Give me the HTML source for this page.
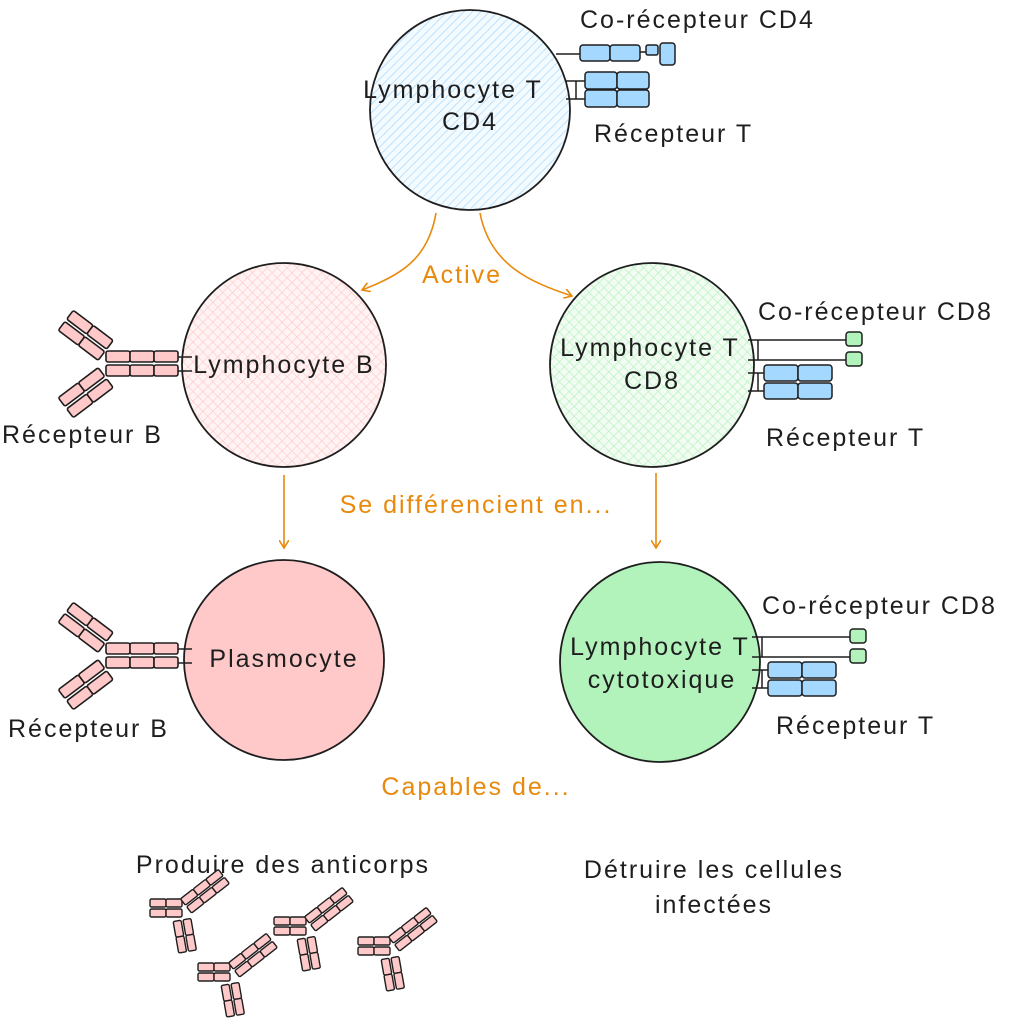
<!DOCTYPE html>
<html><head><meta charset="utf-8"><style>
html,body{margin:0;padding:0;background:#fff;}
svg{display:block;}
text{font-family:"Liberation Sans","DejaVu Sans",sans-serif;fill:#1e1e1e;font-size:25px;letter-spacing:2px;}
.o{fill:#e8890c;}
</style></head><body>
<svg width="1018" height="1024" viewBox="0 0 1018 1024" xmlns="http://www.w3.org/2000/svg">
<defs>
<pattern id="hb" width="6" height="6" patternUnits="userSpaceOnUse" patternTransform="rotate(45)">
<rect width="6" height="6" fill="#f4fbff"/><line x1="0" y1="0" x2="0" y2="6" stroke="#a5d8ff" stroke-width="1.4"/></pattern>
<pattern id="hp" width="7" height="7" patternUnits="userSpaceOnUse" patternTransform="rotate(45)">
<rect width="7" height="7" fill="#fff3f3"/><line x1="0" y1="0" x2="0" y2="7" stroke="#ffc9c9" stroke-width="1.3"/><line x1="0" y1="0" x2="7" y2="0" stroke="#ffc9c9" stroke-width="1.3"/></pattern>
<pattern id="hg" width="7" height="7" patternUnits="userSpaceOnUse" patternTransform="rotate(45)">
<rect width="7" height="7" fill="#f2fcf3"/><line x1="0" y1="0" x2="0" y2="7" stroke="#b2f2bb" stroke-width="1.3"/><line x1="0" y1="0" x2="7" y2="0" stroke="#b2f2bb" stroke-width="1.3"/></pattern>
<marker id="ar" markerWidth="10" markerHeight="10" refX="8" refY="5" orient="auto" markerUnits="userSpaceOnUse">
<path d="M0,0 L8,5 L0,10" fill="none" stroke="#e8890c" stroke-width="1.6"/></marker>
<g id="ab" stroke="#1e1e1e" stroke-width="1.6" fill="#ffc9c9">
<rect x="0" y="-13" width="24" height="11" rx="2"/><rect x="24" y="-13" width="24" height="11" rx="2"/><rect x="48" y="-13" width="24" height="11" rx="2"/>
<rect x="0" y="1" width="24" height="11" rx="2"/><rect x="24" y="1" width="24" height="11" rx="2"/><rect x="48" y="1" width="24" height="11" rx="2"/>
<g transform="translate(0,-14) rotate(37)"><rect x="-50" y="-12" width="25" height="11" rx="2"/><rect x="-25" y="-12" width="25" height="11" rx="2"/><rect x="-50" y="2" width="25" height="11" rx="2"/><rect x="-25" y="2" width="25" height="11" rx="2"/></g>
<g transform="translate(0,14) rotate(-37)"><rect x="-50" y="-13" width="25" height="11" rx="2"/><rect x="-25" y="-13" width="25" height="11" rx="2"/><rect x="-50" y="1" width="25" height="11" rx="2"/><rect x="-25" y="1" width="25" height="11" rx="2"/></g>
</g>
<g id="fab" stroke="#1e1e1e" stroke-width="1.4" fill="#ffc9c9">
<rect x="-32" y="-9" width="16" height="8" rx="1.5"/><rect x="-16" y="-9" width="16" height="8" rx="1.5"/>
<rect x="-32" y="1" width="16" height="8" rx="1.5"/><rect x="-16" y="1" width="16" height="8" rx="1.5"/>
<g transform="translate(4,-2) rotate(-38)"><rect x="0" y="-9" width="16" height="8" rx="1.5"/><rect x="16" y="-9" width="16" height="8" rx="1.5"/><rect x="32" y="-9" width="16" height="8" rx="1.5"/>
<rect x="0" y="1" width="16" height="8" rx="1.5"/><rect x="16" y="1" width="16" height="8" rx="1.5"/><rect x="32" y="1" width="16" height="8" rx="1.5"/></g>
<g transform="translate(0,12) rotate(80)"><rect x="0" y="-9" width="16" height="8" rx="1.5"/><rect x="16" y="-9" width="16" height="8" rx="1.5"/>
<rect x="0" y="1" width="16" height="8" rx="1.5"/><rect x="16" y="1" width="16" height="8" rx="1.5"/></g>
</g>
<g id="cd8" stroke="#1e1e1e" stroke-width="1.5">
<line x1="0" y1="0" x2="98" y2="0"/><line x1="0" y1="20" x2="98" y2="20"/><line x1="10" y1="0" x2="10" y2="20"/>
<rect x="98" y="-8" width="16" height="14" rx="3" fill="#b2f2bb"/><rect x="98" y="12" width="16" height="14" rx="3" fill="#b2f2bb"/>
<line x1="0" y1="33" x2="16" y2="33"/><line x1="0" y1="51" x2="16" y2="51"/><line x1="10" y1="33" x2="10" y2="51"/>
<g fill="#a5d8ff"><rect x="16" y="25" width="34" height="16" rx="3"/><rect x="50" y="25" width="34" height="16" rx="3"/><rect x="16" y="43" width="34" height="16" rx="3"/><rect x="50" y="43" width="34" height="16" rx="3"/></g>
</g>
</defs>

<circle cx="470" cy="110" r="100" fill="url(#hb)" stroke="#1e1e1e" stroke-width="1.8"/>
<text x="453" y="98" text-anchor="middle">Lymphocyte T</text>
<text x="470" y="130" text-anchor="middle">CD4</text>
<g stroke="#1e1e1e" stroke-width="1.5">
<line x1="556" y1="54" x2="580" y2="54"/>
<g fill="#a5d8ff"><rect x="580" y="45" width="30" height="16" rx="3"/><rect x="610" y="45" width="30" height="16" rx="3"/><rect x="646" y="45" width="12" height="10" rx="2"/><rect x="660" y="43" width="15" height="22" rx="3"/></g>
<line x1="640" y1="52" x2="646" y2="52"/>
<line x1="566" y1="81" x2="585" y2="81"/><line x1="566" y1="99" x2="585" y2="99"/><line x1="576" y1="81" x2="576" y2="99"/>
<g fill="#a5d8ff"><rect x="585" y="72" width="32" height="17" rx="3"/><rect x="617" y="72" width="32" height="17" rx="3"/><rect x="585" y="90" width="32" height="17" rx="3"/><rect x="617" y="90" width="32" height="17" rx="3"/></g>
</g>
<text x="580" y="28">Co-récepteur CD4</text>
<text x="594" y="142">Récepteur T</text>

<path d="M436,213 C428,260 400,275 362,290" fill="none" stroke="#e8890c" stroke-width="1.6" marker-end="url(#ar)"/>
<path d="M480,213 C490,265 530,282 572,296" fill="none" stroke="#e8890c" stroke-width="1.6" marker-end="url(#ar)"/>
<text x="462" y="283" text-anchor="middle" class="o">Active</text>

<circle cx="284" cy="365" r="102" fill="url(#hp)" stroke="#1e1e1e" stroke-width="1.8"/>
<text x="284" y="373" text-anchor="middle">Lymphocyte B</text>
<g stroke="#1e1e1e" stroke-width="1.5"><line x1="178" y1="357" x2="192" y2="357"/><line x1="178" y1="371" x2="192" y2="371"/></g>
<use href="#ab" x="106" y="364"/>
<text x="2" y="443">Récepteur B</text>

<circle cx="652" cy="365" r="102" fill="url(#hg)" stroke="#1e1e1e" stroke-width="1.8"/>
<text x="650" y="356" text-anchor="middle">Lymphocyte T</text>
<text x="652" y="389" text-anchor="middle">CD8</text>
<use href="#cd8" x="748" y="340"/>
<text x="758" y="320">Co-récepteur CD8</text>
<text x="766" y="446">Récepteur T</text>

<line x1="284" y1="475" x2="284" y2="548" stroke="#e8890c" stroke-width="1.6" marker-end="url(#ar)"/>
<line x1="656" y1="473" x2="656" y2="548" stroke="#e8890c" stroke-width="1.6" marker-end="url(#ar)"/>
<text x="476" y="513" text-anchor="middle" class="o">Se différencient en...</text>

<circle cx="284" cy="660" r="100" fill="#ffc9c9" stroke="#1e1e1e" stroke-width="1.8"/>
<text x="284" y="667" text-anchor="middle">Plasmocyte</text>
<g stroke="#1e1e1e" stroke-width="1.5"><line x1="178" y1="649" x2="192" y2="649"/><line x1="178" y1="663" x2="192" y2="663"/></g>
<use href="#ab" x="106" y="656"/>
<text x="8" y="737">Récepteur B</text>

<circle cx="660" cy="662" r="100" fill="#b2f2bb" stroke="#1e1e1e" stroke-width="1.8"/>
<text x="660" y="655" text-anchor="middle">Lymphocyte T</text>
<text x="662" y="688" text-anchor="middle">cytotoxique</text>
<use href="#cd8" x="752" y="637"/>
<text x="762" y="614">Co-récepteur CD8</text>
<text x="776" y="734">Récepteur T</text>

<text x="476" y="795" text-anchor="middle" class="o">Capables de...</text>

<text x="283" y="873" text-anchor="middle">Produire des anticorps</text>
<text x="714" y="878" text-anchor="middle">Détruire les cellules</text>
<text x="714" y="913" text-anchor="middle">infectées</text>

<use href="#fab" x="182" y="908"/>
<use href="#fab" x="306" y="926"/>
<use href="#fab" x="230" y="972"/>
<use href="#fab" x="390" y="946"/>
</svg>
</body></html>
